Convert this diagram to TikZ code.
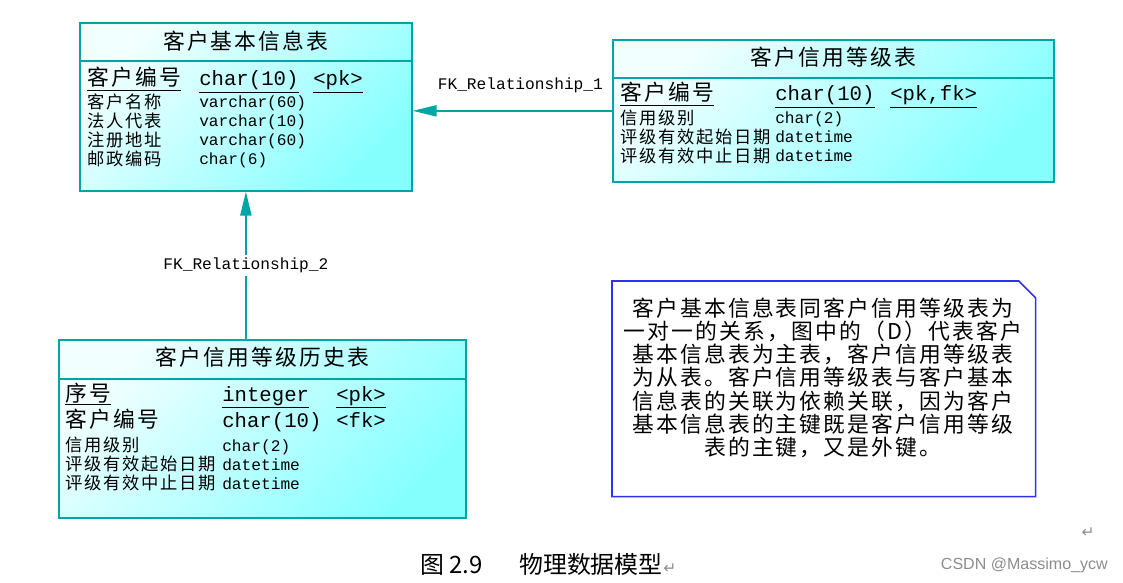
\documentclass[tikz,border=0pt]{standalone}
\usepackage{fontspec}
\setmonofont{Liberation Mono}
\setsansfont{Liberation Sans}
\newfontfamily\cjk{Noto Sans CJK SC}
\newfontfamily\cjkwide{Noto Sans CJK SC}[LetterSpace=10]
\newfontfamily\symb{DejaVu Sans}
\usetikzlibrary{arrows.meta,positioning,calc}
\definecolor{tealline}{HTML}{00A5A5}
\definecolor{cyanlight}{HTML}{F2FFFF}
\definecolor{cyandeep}{HTML}{86FFFF}
\definecolor{noteblue}{HTML}{3030F0}
\definecolor{markgray}{HTML}{8C8C8C}

\tikzset{
  table/.style={draw=tealline, line width=1.2pt, top color=cyanlight, bottom color=cyandeep, shading angle=45, anchor=north west, inner sep=0pt},
  sepline/.style={draw=tealline, line width=1.2pt},
  ttitle/.style={font=\cjkwide\fontsize{15.5}{17}\selectfont, inner sep=0pt},
  fname/.style={font=\cjkwide\fontsize{12.3}{14}\selectfont, anchor=base west, inner sep=0pt},
  fnamebig/.style={font=\cjkwide\fontsize{15.5}{17}\selectfont, anchor=base west, inner sep=0pt},
  ftype/.style={font=\ttfamily\fontsize{11.5}{13}\selectfont, anchor=base west, inner sep=0pt},
  ftypebig/.style={font=\ttfamily\fontsize{14.7}{16}\selectfont, anchor=base west, inner sep=0pt},
  fk/.style={draw=tealline, line width=1pt, -{Triangle[length=17pt,width=8pt]}},
  fklabel/.style={font=\ttfamily\fontsize{11.5}{13}\selectfont, inner sep=2pt},
  notebox/.style={anchor=north west, inner sep=0pt},
  noteline/.style={draw=noteblue, line width=1.1pt},
  notetext/.style={font=\cjkwide\fontsize{15.5}{16.5}\selectfont, align=center, inner sep=0pt},
  retmark/.style={font=\symb\fontsize{11}{13}\selectfont, text=markgray, inner sep=0pt}
}

\begin{document}
\begin{tikzpicture}[x=0.025cm, y=-0.025cm]
    \useasboundingbox (0,0) rectangle (1123,583);

    % customer base table
    \node[table, minimum width=8.3cm, minimum height=4.2cm] (t1) at (79,22) {};
    \draw[sepline] ($(t1.north west)+(0,39)$) -- ($(t1.north east)+(0,39)$);
    \node[ttitle] (t1title) at ($(t1.north)+(0,19.5)$) {客户基本信息表};
    \node[fnamebig] (t1k) at (87,86) {\underline{客户编号}};
    \node[ftypebig] (t1kt) at (199,86) {\underline{char(10)}};
    \node[ftypebig] (t1kk) at (313,86) {\underline{<pk>}};
    \node[fname] (t1a) at (87,108.5) {客户名称};
    \node[ftype] (t1at) at (199,108) {varchar(60)};
    \node[fname] (t1b) at (87,127.5) {法人代表};
    \node[ftype] (t1bt) at (199,127) {varchar(10)};
    \node[fname] (t1c) at (87,146.5) {注册地址};
    \node[ftype] (t1ct) at (199,146) {varchar(60)};
    \node[fname] (t1d) at (87,165.5) {邮政编码};
    \node[ftype] (t1dt) at (199,165) {char(6)};

    % credit level table
    \node[table, minimum width=11.025cm, minimum height=3.55cm] (t2) at (612,39) {};
    \draw[sepline] ($(t2.north west)+(0,39)$) -- ($(t2.north east)+(0,39)$);
    \node[ttitle] (t2title) at ($(t2.north)+(0,18)$) {客户信用等级表};
    \node[fnamebig] (t2k) at (620,101) {\underline{客户编号}};
    \node[ftypebig] (t2kt) at (775,101) {\underline{char(10)}};
    \node[ftypebig] (t2kk) at (890,101) {\underline{<pk,fk>}};
    \node[fname] (t2a) at (620,124.5) {信用级别};
    \node[ftype] (t2at) at (775,124) {char(2)};
    \node[fname] (t2b) at (620,143.5) {评级有效起始日期};
    \node[ftype] (t2bt) at (775,143) {datetime};
    \node[fname] (t2c) at (620,162.5) {评级有效中止日期};
    \node[ftype] (t2ct) at (775,162) {datetime};

    % credit level history table
    \node[table, minimum width=10.175cm, minimum height=4.45cm] (t3) at (58,339) {};
    \draw[sepline] ($(t3.north west)+(0,40)$) -- ($(t3.north east)+(0,40)$);
    \node[ttitle] (t3title) at ($(t3.north)+(0,18)$) {客户信用等级历史表};
    \node[fnamebig] (t3k) at (65,401) {\underline{序号}};
    \node[ftypebig] (t3kt) at (222,401) {\underline{integer}};
    \node[ftypebig] (t3kk) at (336,401) {\underline{<pk>}};
    \node[fnamebig] (t3f) at (65,427) {客户编号};
    \node[ftypebig] (t3ft) at (222,427) {char(10)};
    \node[ftypebig] (t3fk) at (336,427) {<fk>};
    \node[fname] (t3a) at (65,451.5) {信用级别};
    \node[ftype] (t3at) at (222,451) {char(2)};
    \node[fname] (t3b) at (65,470.5) {评级有效起始日期};
    \node[ftype] (t3bt) at (222,470) {datetime};
    \node[fname] (t3c) at (65,489.5) {评级有效中止日期};
    \node[ftype] (t3ct) at (222,489) {datetime};

    % references
    \draw[fk] (t2.west) -- node[fklabel, pos=0.46, yshift=18.4pt] (lbl1) {FK\_Relationship\_1} (t2.west -| t1.east);
    \draw[fk] (t1.south |- t3.north) -- node[fklabel, fill=white] (lbl2) {FK\_Relationship\_2} (t1.south);

    % note
    \node[notebox, minimum width=10.575cm, minimum height=5.375cm] (nt) at (612,281) {};
    \draw[noteline] (nt.north west) -- ($(nt.north east)+(-17,0)$) -- ($(nt.north east)+(0,17)$) -- (nt.south east) -- (nt.south west) -- cycle;
    \node[notetext] (ntxt) at ($(nt.center)+(-1,-11)$) {客户基本信息表同客户信用等级表为\\一对一的关系，图中的（D）代表客户\\基本信息表为主表，客户信用等级表\\为从表。客户信用等级表与客户基本\\信息表的关联为依赖关联，因为客户\\基本信息表的主键既是客户信用等级\\表的主键，又是外键。};

    % caption
    \node[font=\cjk\fontsize{17}{19}\selectfont, anchor=base west, inner sep=0pt] (cap) at (420,573) {图 2.9\hspace{26pt}物理数据模型};
    \node[retmark, anchor=base west] (ret1) at (cap.base east) {↵};
    \node[retmark] (ret2) at (1088,533) {↵};
    \node[font=\sffamily\fontsize{11.4}{13}\selectfont, text=markgray, anchor=east, inner sep=0pt] (mark) at (1108,565) {CSDN @Massimo\_ycw};
\end{tikzpicture}
\end{document}
